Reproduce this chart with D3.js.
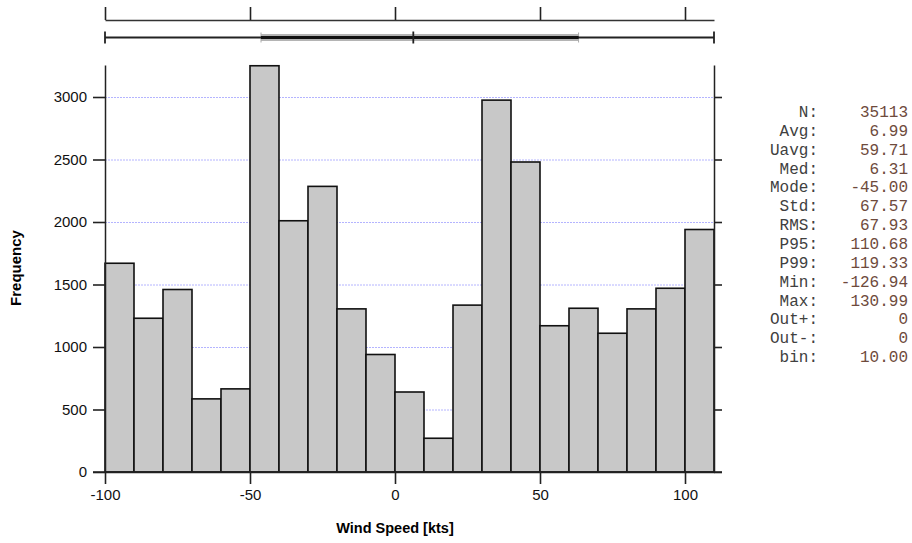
<!DOCTYPE html>
<html>
<head>
<meta charset="utf-8">
<script src="https://cdn.jsdelivr.net/npm/d3@7"></script>
<style>
  body { margin: 0; background: #fff; }
  text { font-family: "Liberation Sans", Arial, sans-serif; }
</style>
</head>
<body>
<script>
// histogram bins (lower edges) and counts
var binStart = [-100, -90, -80, -70, -60, -50, -40, -30, -20, -10, 0, 10, 20, 30, 40, 50, 60, 70, 80, 90, 100];
var binWidth = 10;
var counts = [1670, 1230, 1460, 585, 665, 3250, 2010, 2285, 1305, 940, 640, 270, 1335, 2975, 2480, 1170, 1310, 1110, 1305, 1470, 1940];

var xTicks = [-100, -50, 0, 50, 100];
var yTicks = [0, 500, 1000, 1500, 2000, 2500, 3000];

// box summary drawn above the plot: [q1, median, q3]
var boxQuart = [-46.2, 6.31, 63.3];

var statLabels = ['N:', 'Avg:', 'Uavg:', 'Med:', 'Mode:', 'Std:', 'RMS:', 'P95:', 'P99:', 'Min:', 'Max:', 'Out+:', 'Out-:', 'bin:'];
var statValues = ['35113', '6.99', '59.71', '6.31', '-45.00', '67.57', '67.93', '110.68', '119.33', '-126.94', '130.99', '0', '0', '10.00'];

var width = 912, height = 543;
var svg = d3.select('body').append('svg')
  .attr('width', width).attr('height', height);

var x = d3.scaleLinear().domain([-100, 110]).range([105, 714]);
var y = d3.scaleLinear().domain([0, 3256]).range([472, 65]);
var plain = function(d) { return String(d); };

// grid
svg.append('g').selectAll('line').data(yTicks.slice(1)).enter().append('line')
  .attr('x1', x(-100)).attr('x2', x(110))
  .attr('y1', function(d) { return y(d) + 0.5; })
  .attr('y2', function(d) { return y(d) + 0.5; })
  .style('stroke', '#b4b4ff').style('stroke-width', 1)
  .style('stroke-dasharray', '2,1');

// bars
svg.append('g').selectAll('rect').data(counts).enter().append('rect')
  .attr('x', function(d, i) { return x(binStart[i]); })
  .attr('y', function(d) { return y(d); })
  .attr('width', function(d, i) { return x(binStart[i] + binWidth) - x(binStart[i]); })
  .attr('height', function(d) { return y(0) - y(d); })
  .style('fill', '#c8c8c8').style('stroke', '#111').style('stroke-width', 1.6);

// axes
var leftAxis = svg.append('g').attr('transform', 'translate(' + x(-100) + ',0)')
  .call(d3.axisLeft(y).tickValues(yTicks).tickSize(12).tickSizeOuter(0).tickPadding(6).tickFormat(plain));
var rightAxis = svg.append('g').attr('transform', 'translate(' + x(110) + ',0)')
  .call(d3.axisRight(y).tickValues(yTicks).tickSize(8).tickSizeOuter(0).tickFormat(''));
var bottomAxis = svg.append('g').attr('transform', 'translate(0,' + y(0) + ')')
  .call(d3.axisBottom(x).tickValues(xTicks).tickSize(12).tickSizeOuter(0).tickPadding(5).tickFormat(plain));

[leftAxis, rightAxis, bottomAxis].forEach(function(a) {
  a.select('.domain').style('stroke', '#222').style('stroke-width', 1.5);
  a.selectAll('.tick line').style('stroke', '#222').style('stroke-width', 1.6);
  a.selectAll('text').style('font-size', '15px').style('fill', '#111')
    .style('font-family', '"Liberation Sans", Arial, sans-serif');
});
// zero baseline extends over the tick lengths
svg.append('line')
  .attr('x1', x(-100) - 12).attr('x2', x(110) + 8)
  .attr('y1', y(0)).attr('y2', y(0))
  .style('stroke', '#222').style('stroke-width', 1.6);

// axis titles
svg.append('text').attr('x', x(0)).attr('y', 533)
  .attr('text-anchor', 'middle').style('font-size', '14.5px').style('font-weight', 'bold')
  .text('Wind Speed [kts]');
svg.append('text').attr('transform', 'translate(21,' + 268 + ') rotate(-90)')
  .attr('text-anchor', 'middle').style('font-size', '15px').style('font-weight', 'bold')
  .text('Frequency');

// top scale
var topAxis = svg.append('g').attr('transform', 'translate(0,20)')
  .call(d3.axisTop(x).tickValues(xTicks).tickSize(13).tickSizeOuter(0).tickFormat(''));
topAxis.select('.domain').style('stroke', '#333').style('stroke-width', 1.5);
topAxis.selectAll('.tick line').style('stroke', '#222').style('stroke-width', 1.6);

// box summary
var by = 37.5;
var g = svg.append('g');
g.append('rect').attr('x', x(boxQuart[0])).attr('y', by - 3.5)
  .attr('width', x(boxQuart[2]) - x(boxQuart[0])).attr('height', 7)
  .style('fill', '#b4b4b4');
[boxQuart[0], boxQuart[2]].forEach(function(v) {
  g.append('line').attr('x1', x(v)).attr('x2', x(v)).attr('y1', by - 5).attr('y2', by + 5)
    .style('stroke', '#aaa').style('stroke-width', 1);
});
g.append('line').attr('x1', x(-100)).attr('x2', x(110)).attr('y1', by).attr('y2', by)
  .style('stroke', '#222').style('stroke-width', 2);
g.append('line').attr('x1', x(boxQuart[0])).attr('x2', x(boxQuart[2])).attr('y1', by).attr('y2', by)
  .style('stroke', '#111').style('stroke-width', 3);
[-100, 110, boxQuart[1]].forEach(function(v) {
  g.append('line').attr('x1', x(v)).attr('x2', x(v)).attr('y1', by - 6).attr('y2', by + 6)
    .style('stroke', '#222').style('stroke-width', 1.8);
});

// stats panel
var stats = svg.append('g');
statLabels.forEach(function(l, i) {
  var ty = 117 + i * 18.85;
  stats.append('text').attr('x', 818).attr('y', ty).attr('text-anchor', 'end')
    .style('font-family', '"Liberation Mono", "Courier New", monospace').style('font-size', '16px')
    .style('fill', '#404040').text(l);
  stats.append('text').attr('x', 908).attr('y', ty).attr('text-anchor', 'end')
    .style('font-family', '"Liberation Mono", "Courier New", monospace').style('font-size', '16px')
    .style('fill', '#6e4a3c').text(statValues[i]);
});
</script>
</body>
</html>
